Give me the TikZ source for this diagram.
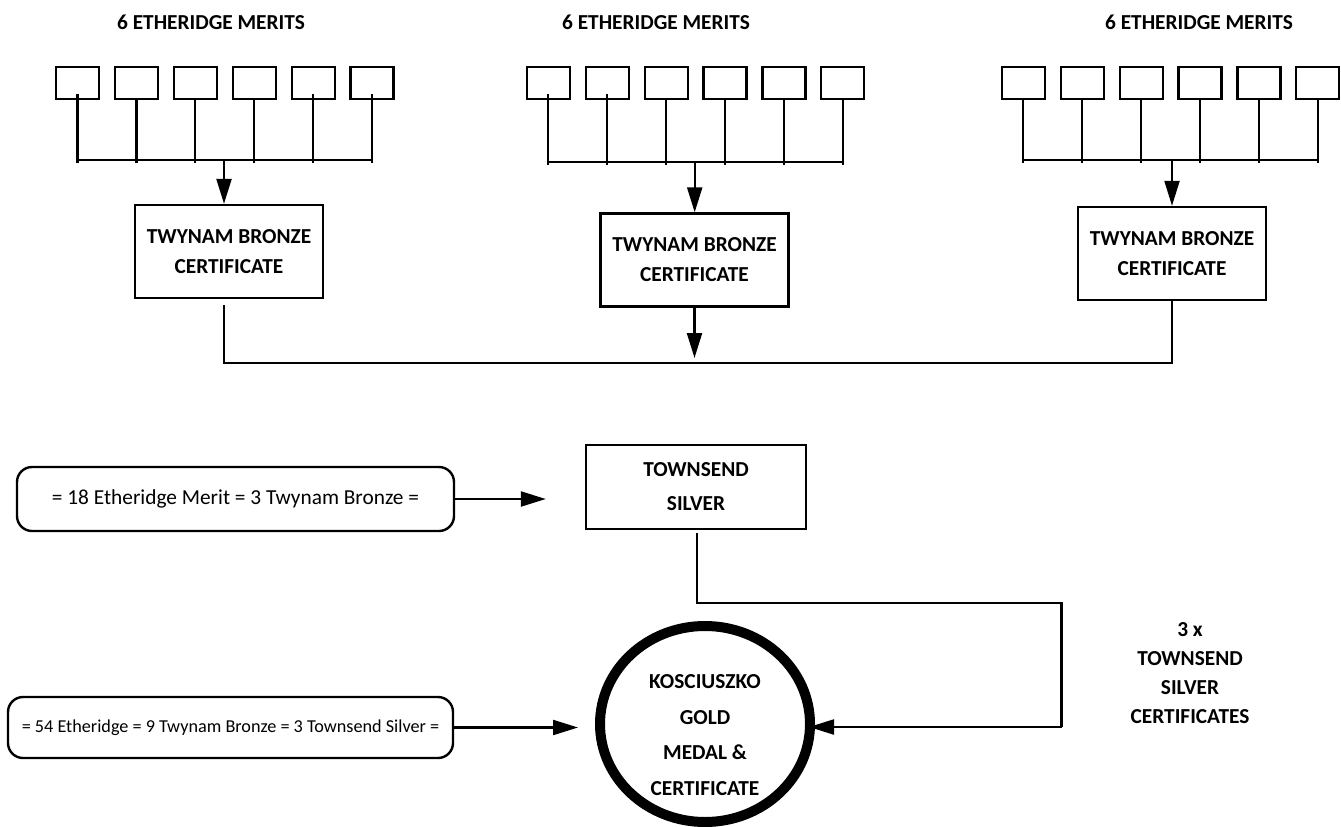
\documentclass[tikz,border=0pt]{standalone}
\usepackage{fontspec}
\setmainfont{Carlito}
\usetikzlibrary{arrows.meta,calc,shapes.geometric}
\begin{document}
\begin{tikzpicture}[x=1pt,y=-1pt,
  every node/.style={inner sep=0pt},
  lbl/.style={font=\fontsize{21.33}{29}\selectfont\bfseries, align=center},
  meritbox/.style={draw, line width=2.2pt, minimum width=43pt, minimum height=32pt},
  bronzebox/.style={draw, line width=2.4pt, minimum width=188pt, minimum height=93pt, align=center, font=\fontsize{21.33}{30}\selectfont\bfseries},
  silverbox/.style={draw, line width=2.4pt, minimum width=220pt, minimum height=84pt, align=center, font=\fontsize{21.33}{34}\selectfont\bfseries},
  eqbox/.style={draw, line width=2.4pt, rounded corners=15pt, font=\fontsize{21.33}{26}\selectfont},
  goldring/.style={draw, ellipse, line width=10pt, minimum width=210pt, minimum height=196pt},
  wire/.style={line width=2.2pt},
  arr/.style={line width=2.2pt, -{Triangle[length=25pt,width=15pt]}}
]
\useasboundingbox (0,0) rectangle (1341,827);

% titles
\node[lbl] (t1) at (211,22) {6 ETHERIDGE MERITS};
\node[lbl] (t2) at (656,22) {6 ETHERIDGE MERITS};
\node[lbl] (t3) at (1199,22) {6 ETHERIDGE MERITS};

% merit boxes and buses
\foreach \g/\xo/\by in {1/77.5/160, 2/548.3/161.7, 3/1023.3/160} {
  \foreach \i in {1,...,6} {
    \node[meritbox] (g\g m\i) at ({\xo+58.9*(\i-1)}, 83) {};
    \draw[wire] (g\g m\i.south) -- (g\g m\i.south |- 0,\by) -- ++(0,3);
  }
  \draw[wire] (g\g m1.south |- 0,\by) -- (g\g m6.south |- 0,\by);
}
% stubs reaching into some boxes, as in the original
\foreach \n in {g1m1,g1m5,g1m6,g2m1,g2m2}
  \draw[wire] (\n.south) -- ++(0,-6);
\coordinate (j1) at (224,160);
\coordinate (j2) at (694.7,161.7);
\coordinate (j3) at (1172,160);

% bronze boxes
\node[bronzebox] (b1) at (229,251.5) {TWYNAM BRONZE\\CERTIFICATE};
\node[bronzebox] (b2) at (694.5,260) {TWYNAM BRONZE\\CERTIFICATE};
\node[bronzebox] (b3) at (1172,253.5) {TWYNAM BRONZE\\CERTIFICATE};

\draw[arr] (j1) -- (j1 |- b1.north);
\draw[arr] (j2) -- (j2 |- b2.north);
\draw[arr] (j3) -- (j3 |- b3.north);

% collecting line
\coordinate (h1) at (224,363);
\coordinate (h3) at (1172,363);
\draw[wire, shorten <=6pt] (j1 |- b1.south) -- (h1) -- (h3) -- (j3 |- b3.south);
\draw[arr, shorten >=5pt] (b2.south) -- (b2.south |- h1);

% townsend silver
\node[silverbox] (ts) at (696,487) {TOWNSEND\\SILVER};
\node[eqbox, minimum width=437pt, minimum height=64pt] (eq1) at (235.5,499) {= 18 Etheridge Merit = 3 Twynam Bronze =};
\draw[arr, shorten >=39pt] (eq1.east) -- (eq1.east -| ts.west);

% gold
\node[goldring] (gold) at (705,724) {};
\node[lbl, font=\fontsize{21.33}{35.7}\selectfont\bfseries] (goldtxt) at (705,735) {KOSCIUSZKO\\GOLD\\MEDAL \&\\CERTIFICATE};
\node[eqbox, font=\fontsize{18.2}{24}\selectfont, minimum width=445pt, minimum height=61pt] (eq2) at (230.5,727.5) {= 54 Etheridge = 9 Twynam Bronze = 3 Townsend Silver =};
\draw[arr, shorten >=17pt] (eq2.east) -- (eq2.east -| gold.west);

\coordinate (s1) at (697.3,602.7);
\coordinate (s2) at (1061.5,602.7);
\coordinate (s3) at (1061.5,727);
\draw[wire, shorten <=3pt] (s1 |- ts.south) -- (s1) -- (s2) -- (s3);
\draw[arr, shorten >=-6pt] (s3) -- (s3 -| gold.east);

\node[lbl] (note) at (1190,673) {3 x\\TOWNSEND\\SILVER\\CERTIFICATES};
\end{tikzpicture}
\end{document}
